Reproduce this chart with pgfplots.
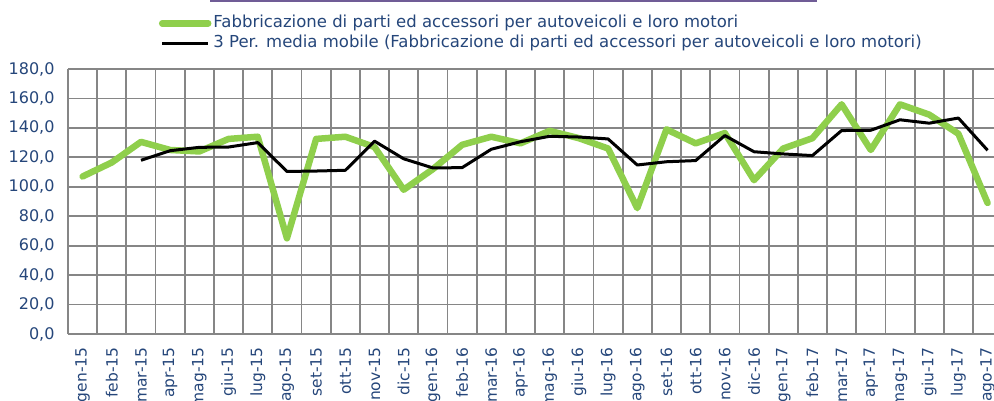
\documentclass[border=0pt]{standalone}
\usepackage{fontspec}
\setmainfont{DejaVu Sans}
\usepackage{pgfplots}
\pgfplotsset{compat=1.18}
\definecolor{lgreen}{RGB}{143,207,76}
\definecolor{navy}{RGB}{37,70,122}
\definecolor{gridgray}{RGB}{134,134,134}
\definecolor{topline}{RGB}{112,92,150}
\begin{document}
\begin{tikzpicture}
\begin{axis}[
  at={(0pt,0pt)}, anchor=south west,
  scale only axis, width=926pt, height=265pt,
  xmin=-0.5, xmax=31.22, ymin=0, ymax=180,
  axis line style={draw=none},
  tick style={draw=none},
  ytick={0,20,...,180},
  xtick={0,...,31},
  xticklabels={gen-15,feb-15,mar-15,apr-15,mag-15,giu-15,lug-15,ago-15,set-15,ott-15,nov-15,dic-15,gen-16,feb-16,mar-16,apr-16,mag-16,giu-16,lug-16,ago-16,set-16,ott-16,nov-16,dic-16,gen-17,feb-17,mar-17,apr-17,mag-17,giu-17,lug-17,ago-17},
  minor xtick={-0.5,0.5,...,30.5},
  xminorgrids=true, ymajorgrids=true, xmajorgrids=false,
  grid style={gridgray, line width=1.8pt},
  minor grid style={gridgray, line width=1.8pt},
  /pgf/number format/.cd, fixed, fixed zerofill, precision=1, use comma, assume math mode=true,
  /pgfplots/.cd,
  yticklabel style={font=\fontsize{16}{18}\selectfont, text=navy},
  yticklabel shift=10pt,
  xticklabel style={rotate=90, anchor=east, font=\fontsize{15.5}{18}\selectfont, text=navy},
  xticklabel shift=10pt,
  legend style={at={(0.098,1.211)}, anchor=north west, draw=none, fill=none,
    font=\fontsize{16.5}{19}\selectfont, text=navy, inner sep=0pt,
    nodes={text height=12pt, text depth=4pt, inner ysep=2pt},
    row sep=0pt},
  legend cell align=left,
  legend image code/.code={\draw[#1] (0pt,0pt) -- (46pt,0pt);},
]
\addplot[lgreen, line width=6.5pt, line cap=round, line join=round] coordinates {
(0,107) (1,116.5) (2,130.5) (3,125) (4,124) (5,132.5) (6,134) (7,65)
(8,132.5) (9,134) (10,127) (11,98) (12,112) (13,128.5) (14,134) (15,129.5)
(16,138) (17,133) (18,126) (19,85.5) (20,139) (21,129.5) (22,136.5) (23,104.5)
(24,126) (25,133) (26,156) (27,125) (28,156) (29,149) (30,136) (31,89)};
\addlegendentry{Fabbricazione di parti ed accessori per autoveicoli e loro motori}
\addplot[black, line width=3pt, line join=round] coordinates {
(2,118) (3,124.5) (4,126.8) (5,127) (6,130) (7,110.4) (8,110.7) (9,111.2)
(10,131) (11,119) (12,112.8) (13,113) (14,125.5) (15,130.6) (16,134.3) (17,133.8)
(18,132.5) (19,114.8) (20,117) (21,117.8) (22,134.8) (23,123.8) (24,122.3) (25,121.2)
(26,138.2) (27,138.4) (28,145.5) (29,143.2) (30,146.7) (31,124.8)};
\addlegendentry{3 Per. media mobile (Fabbricazione di parti ed accessori per autoveicoli e loro motori)}
\end{axis}
\draw[topline, line width=2pt] (142pt,333pt) -- (749pt,333pt);
\pgfresetboundingbox
\useasboundingbox (-68pt,-66pt) rectangle (926pt,334pt);
\end{tikzpicture}
\end{document}
